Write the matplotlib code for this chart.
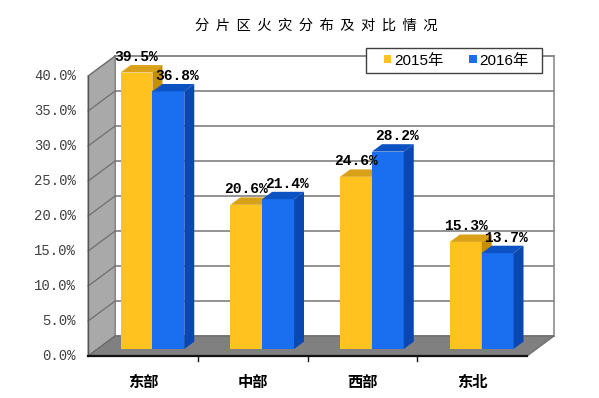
import matplotlib
matplotlib.use('Agg')
import matplotlib.pyplot as plt
from matplotlib.patches import Polygon, Patch, Rectangle

categories = ['东部', '中部', '西部', '东北']
series_names = ['2015年', '2016年']
values_2015 = [39.5, 20.6, 24.6, 15.3]
values_2016 = [36.8, 21.4, 28.2, 13.7]
y_ticks = [0, 5, 10, 15, 20, 25, 30, 35, 40]
y_tick_labels = ['0.0%', '5.0%', '10.0%', '15.0%', '20.0%', '25.0%', '30.0%', '35.0%', '40.0%']
title = '分片区火灾分布及对比情况'

front_colors = ['#FFC21F', '#1A6FF0']
top_colors = ['#D9A117', '#0D52C2']
side_colors = ['#C48F00', '#0A47B0']

W, H = 599, 398
fig = plt.figure(figsize=(W / 100, H / 100), dpi=100)
ax = fig.add_axes([0, 0, 1, 1])
ax.set_xlim(-143 / 109.75, (W - 143) / 109.75)
ax.set_ylim(-(H - 356) / 7, 356 / 7)
ax.axis('off')

DX, DY = 27 / 109.75, 20 / 7     # full depth of the 3-D box
ymax = y_ticks[-1]
x0, x1 = -0.5, len(categories) - 0.5

# back wall
ax.add_patch(Polygon([(x0 + DX, DY), (x1 + DX, DY), (x1 + DX, ymax + DY), (x0 + DX, ymax + DY)],
                     closed=True, fc='white', ec='#8c8c8c', lw=1.2, zorder=1))
for v in y_ticks:
    ax.plot([x0 + DX, x1 + DX], [v + DY, v + DY], color='#8a8a8a', lw=1.3, zorder=2)

# left side wall
ax.add_patch(Polygon([(x0, 0), (x0 + DX, DY), (x0 + DX, ymax + DY), (x0, ymax)],
                     closed=True, fc='#a9a9a9', ec='#7a7a7a', lw=0.8, zorder=2))
for v in y_ticks:
    ax.plot([x0, x0 + DX], [v, v + DY], color='#6f6f6f', lw=0.9, zorder=3)
ax.plot([x0, x0], [0, ymax], color='#555555', lw=1.0, zorder=3)

# floor
ax.add_patch(Polygon([(x0, 0), (x1, 0), (x1 + DX, DY), (x0 + DX, DY)],
                     closed=True, fc='#808080', ec='#6a6a6a', lw=0.8, zorder=3))
ax.plot([x0, x1], [0, 0], color='#111111', lw=1.6, zorder=4)
for k in range(1, len(categories)):
    ax.plot([k - 0.5, k - 0.5], [0, -0.7], color='#111111', lw=1.0, zorder=4)

# bars
w = 0.29
t0 = 0.35
bd = 0.37
ox, oy = t0 * DX, t0 * DY
bdx, bdy = bd * DX, bd * DY
series = [values_2015, values_2016]
label_dx = [0.0, 0.08]
for i in range(len(categories)):
    for j, vals in enumerate(series):
        v = vals[i]
        xl = i - w + j * w + ox
        xr = xl + w
        ax.bar([xl + w / 2], [v], width=w, bottom=oy, color=front_colors[j],
               edgecolor='none', zorder=5 + i * 3 + j)
        ax.add_patch(Polygon([(xl, v + oy), (xr, v + oy), (xr + bdx, v + oy + bdy), (xl + bdx, v + oy + bdy)],
                             closed=True, fc=top_colors[j], ec='none', zorder=5 + i * 3 + j))
        ax.add_patch(Polygon([(xr, oy), (xr + bdx, oy + bdy), (xr + bdx, v + oy + bdy), (xr, v + oy)],
                             closed=True, fc=side_colors[j], ec='none', zorder=5 + i * 3 + j))
        ax.text(xl + w / 2 + label_dx[j], v + oy + 2.2, f'{v:.1f}%', ha='center', va='center',
                family='Liberation Mono', fontsize=10.5, weight='bold', color='#000000', zorder=40)

# y tick labels
for v, lab in zip(y_ticks, y_tick_labels):
    ax.text(-0.61, v, lab, ha='right', va='center', family='Liberation Mono',
            fontsize=10, color='#404040')

# category labels
for i, c in enumerate(categories):
    ax.text(i, -3.7, c, ha='center', va='center', family=['Noto Sans CJK SC', 'DejaVu Sans'],
            fontsize=11, color='black', weight='bold')

# title
fig.text(316 / W, 1 - 26 / H, '  '.join(title), ha='center', va='center',
         family=['Noto Sans CJK SC', 'DejaVu Sans'], fontsize=10.3, color='#000000')

# legend box
fig.patches.append(Rectangle((366 / W, 1 - 73 / H), 176 / W, 25 / H, transform=fig.transFigure,
                             fc='white', ec='#404040', lw=1.0, zorder=45))
handles = [Patch(facecolor=front_colors[j], edgecolor='none') for j in range(2)]
leg = fig.legend(handles, series_names, loc='center', bbox_to_anchor=(456 / W, 1 - 60.5 / H),
                 ncol=2, frameon=False,
                 handlelength=0.5, handleheight=0.5, handletextpad=0.15, columnspacing=1.7,
                 borderpad=0.2, prop={'family': ['Liberation Sans', 'Noto Sans CJK SC'], 'size': 11})
leg.set_zorder(50)

fig.savefig('out.png', dpi=100)
